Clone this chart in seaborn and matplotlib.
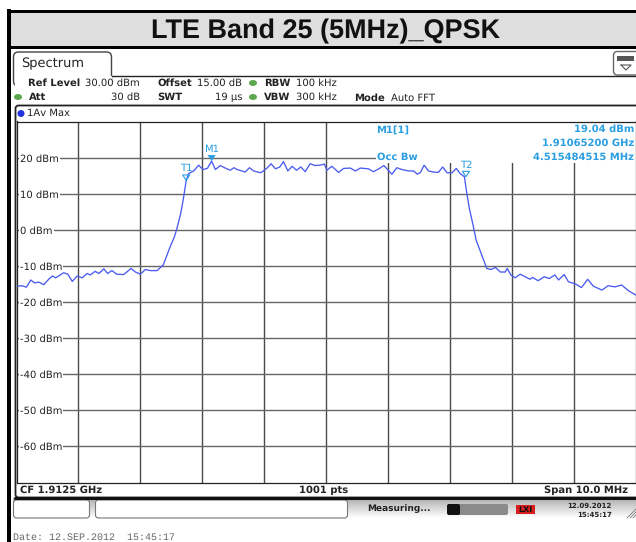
import numpy as np
import pandas as pd
import seaborn as sns
import matplotlib
matplotlib.use("Agg")
import matplotlib.pyplot as plt
from matplotlib.patches import FancyBboxPatch, Rectangle, Ellipse
from matplotlib.path import Path

W, H = 636, 542

# trace, MHz from the left edge of the span / dBm
freq_mhz = [0, .09, .16, .23, .29, .36, .44, .52, .58, .63, .68, .76, .83, .90, .98, 1.06, 1.14, 1.19, 1.27, 1.33,
            1.41, 1.47, 1.54, 1.62, 1.73, 1.85, 1.92, 2.00, 2.08, 2.16, 2.27, 2.37, 2.43, 2.48, 2.55, 2.59, 2.65, 2.69,
            2.74, 2.78, 2.86, 2.94, 3.01, 3.08, 3.15, 3.21, 3.29, 3.37, 3.45, 3.51, 3.56, 3.64, 3.69, 3.76, 3.83, 3.94,
            4.00, 4.05, 4.11, 4.18, 4.25, 4.31, 4.38, 4.45, 4.52, 4.59, 4.66, 4.74, 4.82, 4.90, 4.97, 5.01, 5.09, 5.20,
            5.28, 5.39, 5.47, 5.55, 5.68, 5.76, 5.85, 5.93, 6.01, 6.06, 6.14, 6.22, 6.33, 6.41, 6.47, 6.52, 6.58, 6.65,
            6.73, 6.81, 6.88, 6.95, 7.03, 7.10, 7.16, 7.23, 7.27, 7.31, 7.37, 7.42, 7.48, 7.54, 7.59, 7.66, 7.73, 7.81,
            7.89, 7.92, 7.98, 8.05, 8.13, 8.21, 8.29, 8.33, 8.42, 8.52, 8.60, 8.69, 8.75, 8.84, 8.91, 9.02, 9.12, 9.22,
            9.31, 9.45, 9.55, 9.66, 9.77, 9.88, 10.0]
level_dbm = [-15.6, -15.5, -15.9, -13.9, -14.7, -14.5, -15.2, -13.7, -12.8, -13.3, -12.8, -11.9, -12.3, -14.3, -12.8,
             -13.3, -12.1, -12.5, -11.5, -12.1, -10.8, -12.1, -11.3, -12.3, -12.4, -10.7, -11.7, -12.3, -11.0, -11.3,
             -11.3, -9.7, -7.0, -4.7, -1.9, 0.4, 4.5, 8.2, 13.7, 15.6, 16.3, 17.9, 16.7, 17.0, 19.04, 16.7, 17.8, 17.1,
             16.5, 17.2, 16.7, 16.3, 16.0, 17.2, 16.3, 15.8, 16.5, 17.2, 18.3, 16.9, 17.4, 18.9, 16.3, 17.6, 16.5, 17.4,
             16.1, 18.3, 17.8, 17.9, 18.2, 16.5, 17.6, 15.9, 17.0, 17.1, 16.3, 17.1, 16.9, 16.1, 16.9, 17.8, 16.3, 15.4,
             17.2, 16.7, 16.3, 16.3, 15.4, 15.9, 17.9, 16.3, 16.0, 15.9, 17.4, 15.8, 15.8, 17.0, 15.6, 14.7, 10.0, 5.9,
             1.3, -2.9, -5.6, -8.4, -10.7, -11.0, -10.4, -11.7, -11.7, -10.7, -12.5, -13.3, -12.3, -13.0, -13.7, -13.2,
             -14.1, -13.0, -13.5, -12.5, -13.9, -12.4, -14.4, -15.0, -16.0, -13.7, -15.6, -16.7, -15.5, -15.8, -15.3,
             -16.9, -18.1]
db_ticks = [20, 10, 0, -10, -20, -30, -40, -50, -60]
db_labels = ["20 dBm", "10 dBm", "0 dBm", "-10 dBm", "-20 dBm", "-30 dBm", "-40 dBm", "-50 dBm", "-60 dBm"]
mhz_ticks = [1, 2, 3, 4, 5, 6, 7, 8, 9]
marker_names = ["M1", "T1", "T2"]
marker_freq = [3.15, 2.74, 7.255]
marker_level = [19.04, 13.7, 14.7]

BLUE = "#4a5cf0"
CYAN = "#2a9fe2"
TXT = "#222222"

sns.set_theme(style="white", rc={"font.family": "DejaVu Sans", "text.hinting": "none", "text.hinting_factor": 1})
fig = plt.figure(figsize=(W / 100, H / 100), dpi=100, facecolor="white")

# background layer, pixel coordinates
bg = fig.add_axes([0, 0, 1, 1], zorder=0)
grad = np.linspace(0.68, 1.0, 40).reshape(-1, 1)
bg.imshow(grad, cmap="gray", vmin=0, vmax=1, extent=(13, W, 518, 498), aspect="auto")
bg.set_xlim(0, W)
bg.set_ylim(H, 0)
bg.axis("off")
bg.add_patch(Rectangle((11, 13), W - 11, 33, fc="#dedede", ec="none"))
bg.add_patch(Rectangle((7, 9), 4, H - 9, fc="black", ec="none"))
bg.add_patch(Rectangle((7, 10), W - 7, 3, fc="black", ec="none"))
bg.add_patch(Rectangle((11, 46), W - 11, 3, fc="black", ec="none"))
bg.plot([112, W], [75.5, 75.5], color="#222222", lw=1)
bg.add_patch(FancyBboxPatch((13.5, 52), 98, 34, boxstyle="round,pad=0,rounding_size=5", fc="white", ec="#444444", lw=1))
bg.add_patch(Rectangle((14.5, 76), 97, 12, fc="white", ec="none"))
bg.add_patch(FancyBboxPatch((613.5, 51.5), 30, 23.5, boxstyle="round,pad=0,rounding_size=4", fc="white", ec="#666666", lw=1))
bg.add_patch(Rectangle((617, 56), 17, 5, fc="#555555", ec="none"))
bg.plot([621, 631, 626, 621], [65, 65, 70, 65], color="#555555", lw=0.8)
bg.add_patch(FancyBboxPatch((15.5, 105.5), 640, 392, boxstyle="round,pad=0,rounding_size=3", fc="white", ec="#222222", lw=1.3))
bg.plot([15, W], [497.5, 497.5], color="#111111", lw=2.2)
bg.add_patch(FancyBboxPatch((13.5, 500), 76, 18, boxstyle="round,pad=0,rounding_size=3", fc="white", ec="#777777", lw=0.8))
bg.add_patch(FancyBboxPatch((95.5, 500), 252, 18, boxstyle="round,pad=0,rounding_size=3", fc="white", ec="#777777", lw=0.8))
bg.add_patch(FancyBboxPatch((448, 504), 60, 11, boxstyle="round,pad=0,rounding_size=2", fc="#8a8a8a", ec="none"))
bg.add_patch(FancyBboxPatch((447, 504), 13, 11, boxstyle="round,pad=0,rounding_size=2", fc="#111111", ec="none"))
bg.add_patch(Rectangle((516, 505), 19, 9, fc="#d81e1e", ec="none"))
for off in (0, 3, 6):
    bg.plot([627 + off, 636], [518, 509 + off], color="#777777", lw=0.6)
for cx, cy in [(253, 83), (253, 97), (18, 97)]:
    bg.add_patch(Ellipse((cx, cy), 8, 6, fc="#5ca84e", ec="none"))
bg.add_patch(Ellipse((21, 113.5), 7, 7, fc="#2233dd", ec="none"))

# the trace itself
ax = fig.add_axes([16.5 / W, 1 - 482.5 / H, 619.5 / W, 361 / H], zorder=1)
ax.set_facecolor("white")
df = pd.DataFrame({"freq": freq_mhz, "level": level_dbm})
sns.lineplot(data=df, x="freq", y="level", color=BLUE, lw=0.95, estimator=None, sort=False, ax=ax, zorder=3)
# triangles sit with the tip on the trace
tip_down = Path([(-1, 1.5), (1, 1.5), (0, 0), (-1, 1.5)], closed=True)
mk = pd.DataFrame({"name": marker_names, "freq": marker_freq, "level": marker_level})
sns.scatterplot(data=mk[mk.name == "M1"], x="freq", y="level", marker=tip_down, s=75, color=CYAN, edgecolor="none", ax=ax, zorder=4)
sns.scatterplot(data=mk[mk.name != "M1"], x="freq", y="level", marker=tip_down, s=60, facecolor="none", edgecolor=CYAN, linewidth=0.8, ax=ax, zorder=4)
for _, r in mk.iterrows():
    ax.annotate(r["name"], (r["freq"], r["level"]), xytext=(0, 5), textcoords="offset points",
                ha="center", va="bottom", fontsize=7, color=CYAN, zorder=5)
ax.set_xlim(0, 10)
ax.set_ylim(-70, 30)
ax.set_xlabel("")
ax.set_ylabel("")
ax.set_xticks(mhz_ticks)
ax.set_xticklabels([])
ax.set_yticks(db_ticks)
ax.set_yticklabels(db_labels, fontsize=7, color=TXT, ha="left")
ax.tick_params(axis="y", length=0, pad=-2.5, direction="in")
ax.tick_params(axis="x", length=0)
for lab in ax.get_yticklabels():
    lab.set_bbox(dict(fc="white", ec="none", pad=0.8))
ax.set_axisbelow(True)
ax.grid(True, axis="y", color="#666666", lw=1.0)
ax.grid(True, axis="x", color="#4a4a4a", lw=1.0)
# readout block covers the grid at top right
ax.add_patch(Rectangle((5.8, 18.5), 4.3, 11.5, fc="white", ec="none", zorder=1))
for s in ax.spines.values():
    s.set_color("#222222")
    s.set_linewidth(0.9)

# text layer
fg = fig.add_axes([0, 0, 1, 1], zorder=2)
fg.set_xlim(0, W)
fg.set_ylim(H, 0)
fg.axis("off")
fg.patch.set_alpha(0)
fg.text(325.5, 31, "LTE Band 25 (5MHz)_QPSK", family="Liberation Sans", weight="bold", fontsize=19.4,
        color="#111111", ha="center", va="center")
fg.text(21, 64, "Spectrum", fontsize=9, color=TXT, va="center")


def info(x, y, s, bold=False, ha="left", color=TXT, size=None):
    if size is None:
        size = 7.2 if bold else 7
    fg.text(x, y, s, fontsize=size, color=color, ha=ha, va="center", weight="bold" if bold else "normal")


info(28, 83, "Ref Level", True)
info(140, 83, "30.00 dBm", ha="right")
info(157, 83, "Offset", True)
info(242, 83, "15.00 dB", ha="right")
info(264, 83, "RBW", True)
info(337, 83, "100 kHz", ha="right")
info(29, 97, "Att", True)
info(140, 97, "30 dB", ha="right")
info(157, 97, "SWT", True)
info(242, 97, "19 µs", ha="right")
info(264, 97, "VBW", True)
info(337, 97, "300 kHz", ha="right")
info(354, 98, "Mode", True)
info(391, 98, "Auto FFT", size=7.5)
info(27, 113.5, "1Av Max", size=7.4)
info(376, 129.5, "M1[1]", True, color=CYAN)
info(634, 129.5, "19.04 dBm", True, ha="right", color=CYAN)
info(634, 143, "1.91065200 GHz", True, ha="right", color=CYAN)
info(634, 157, "4.515484515 MHz", True, ha="right", color=CYAN)
info(377, 157, "Occ Bw", True, color=CYAN)
info(20, 490, "CF 1.9125 GHz", True)
info(299, 490, "1001 pts", True)
info(628, 490, "Span 10.0 MHz", True, ha="right")
info(367, 509, "Measuring...", True, size=6.2)
info(525.5, 509.5, "LXI", True, ha="center", color="#111111", size=6)
info(612, 505.5, "12.09.2012", True, ha="right", size=5)
info(612, 514.5, "15:45:17", True, ha="right", size=5)
fg.text(13, 537, "Date: 12.SEP.2012  15:45:17", family="Liberation Mono", fontsize=7.5, color="#666666", va="center")

fig.savefig("out.png", dpi=100)
